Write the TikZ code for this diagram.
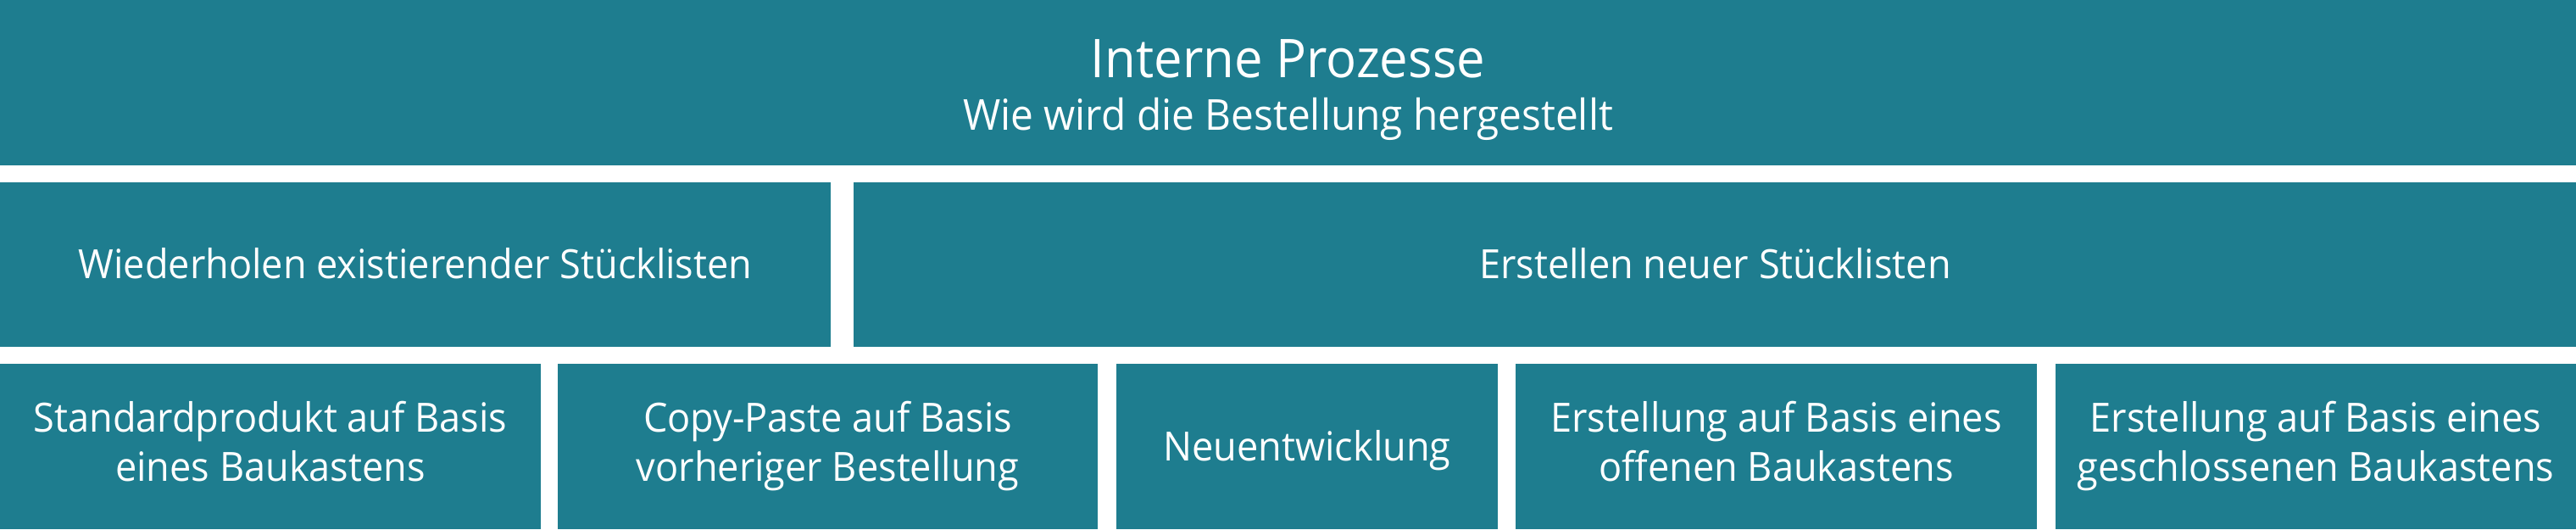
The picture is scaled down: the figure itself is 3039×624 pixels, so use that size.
\documentclass[tikz,border=0pt]{standalone}
\usepackage{fontspec}
\setmainfont[FakeStretch=0.95]{Open Sans}
\definecolor{procteal}{RGB}{30,125,143}
\newcommand{\bxstrut}{\rule[-3.3pt]{0pt}{16.2pt}}

\begin{document}
\begin{tikzpicture}[x=0.01cm,y=-0.01cm]
        \tikzstyle{box}=[rectangle,fill=procteal,text=white,inner sep=0pt,outer sep=0pt,align=center,
                font=\fontsize{13.5}{16.5}\selectfont,execute at begin node=\bxstrut,execute at end node=\bxstrut]
        \useasboundingbox (0,0) rectangle (3039,624);

        \node[box,minimum width=30.39cm,minimum height=1.95cm,font=\fontsize{14.3}{17.6}\selectfont] (P-top) at (1519.5,97.5)
                {\rule{0pt}{17.9pt}{\fontsize{17.9}{17.6}\selectfont Interne Prozesse}\\Wie wird die Bestellung hergestellt};

        \node[box,minimum width=9.80cm,minimum height=1.94cm] (P-wieder) at (490,312)
                {Wiederholen existierender Stücklisten};
        \node[box,minimum width=20.31cm,minimum height=1.94cm] (P-neu) at (2023.5,312)
                {Erstellen neuer Stücklisten};

        \foreach \name/\x/\w/\txt in {std/319/638/{Standardprodukt auf Basis\\eines Baukastens},
                        copy/976.5/637/{Copy-Paste auf Basis\\vorheriger Bestellung},
                        entw/1542/450/{Neuentwicklung},
                        offen/2095.5/615/{Erstellung auf Basis eines\\offenen Baukastens},
                        geschl/2732/614/{Erstellung auf Basis eines\\geschlossenen Baukastens}}
                \node[box,minimum width=\w*0.01cm,minimum height=1.95cm] (V-\name) at (\x,526.5) {\txt};

\end{tikzpicture}
\end{document}
